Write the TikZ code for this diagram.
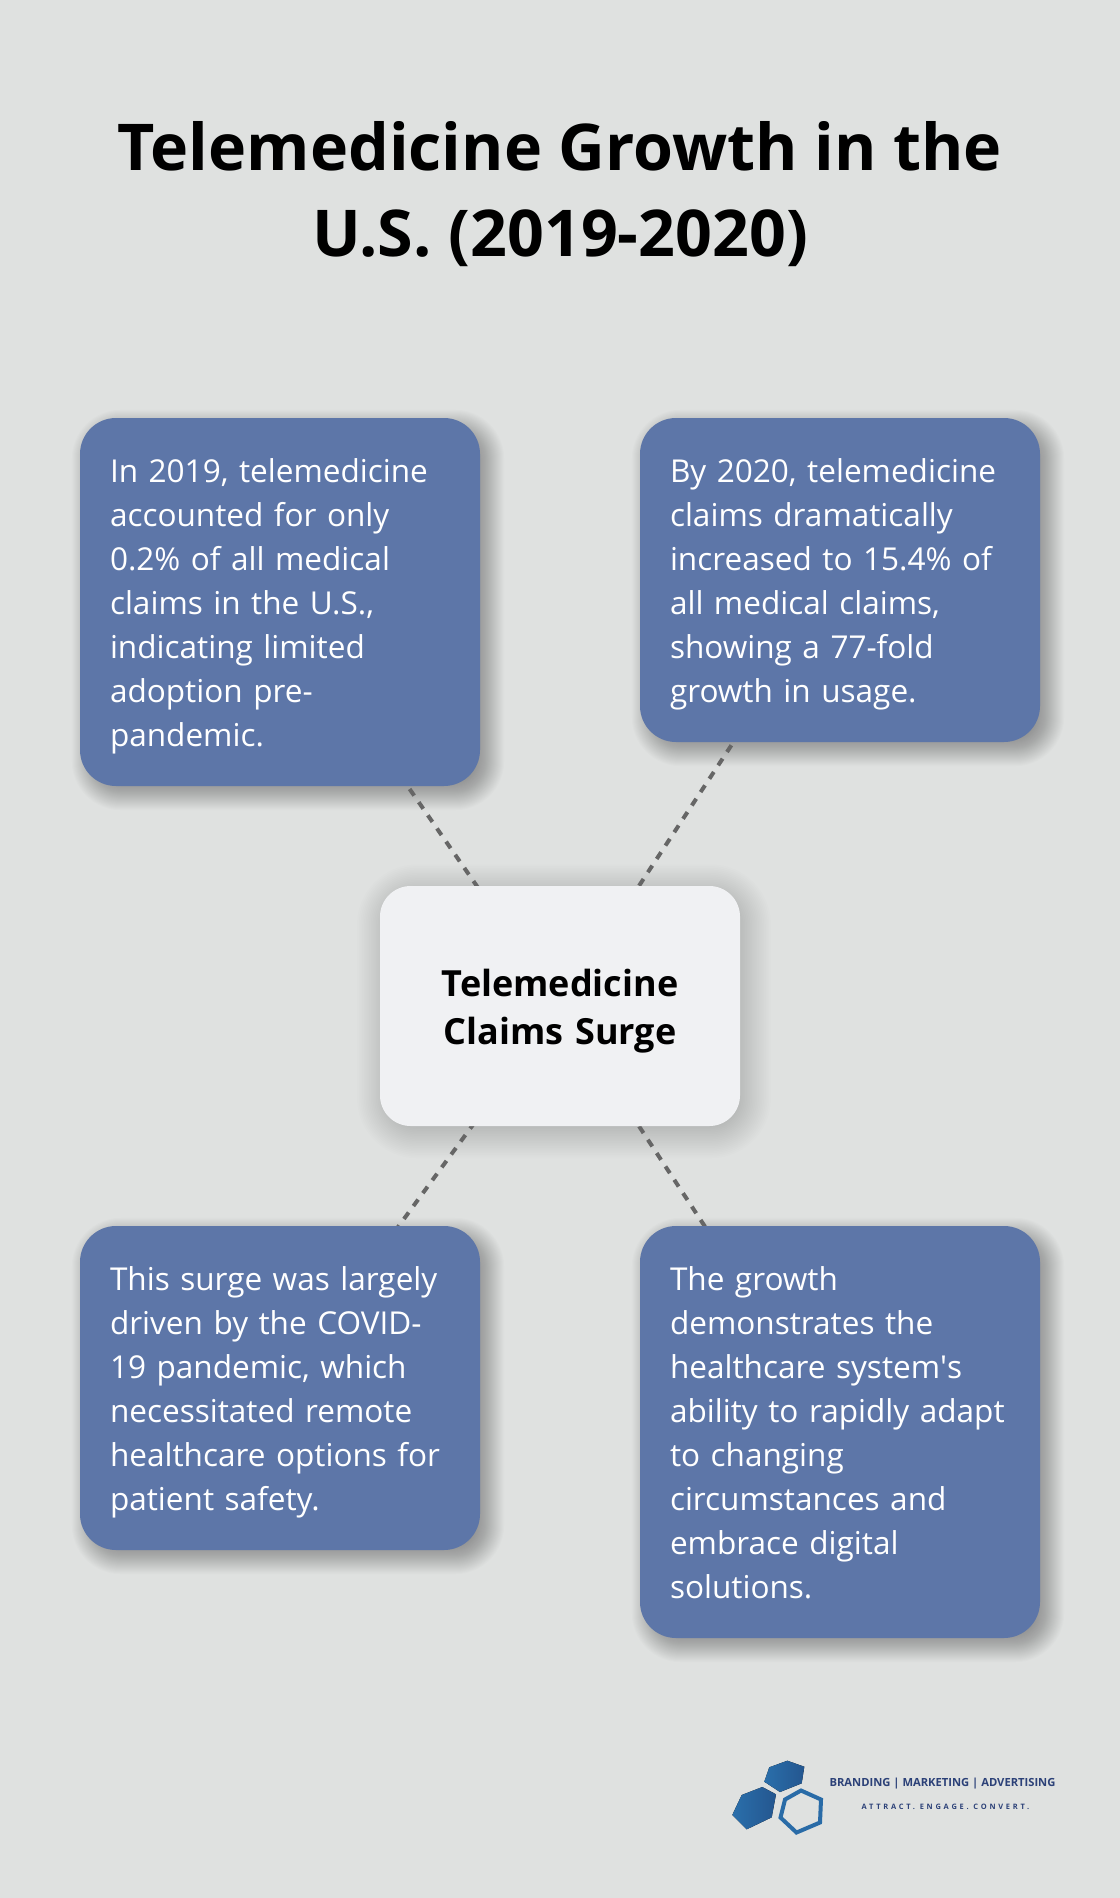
\documentclass[tikz,border=0pt]{standalone}
\usepackage{fontspec}
\setmainfont{Open Sans}
\newfontfamily\spacedfont[LetterSpace=37]{Open Sans}
\newfontfamily\plainfont{Open Sans}
\usetikzlibrary{shadings}
\definecolor{bgc}{HTML}{DFE1E0}
\definecolor{bluebox}{HTML}{5D76A8}
\definecolor{lightbox}{HTML}{F0F1F3}
\definecolor{dashc}{HTML}{666666}
\definecolor{logoA}{HTML}{2A6FAB}
\definecolor{logoB}{HTML}{24568F}
\definecolor{logoT}{HTML}{2C4178}
\pgfdeclarelayer{bglayer}
\pgfdeclarelayer{shadowlayer}
\pgfdeclarelayer{linelayer}
\pgfsetlayers{bglayer,shadowlayer,linelayer,main}
\tikzset{
  x=0.75pt,y=-0.75pt,
  card/.style={fill=bluebox,text=white,rounded corners=27pt,inner sep=0pt,text width=255pt,minimum width=300pt,align=left,font=\fontsize{23.65}{33}\selectfont,execute at begin node={\rule{0pt}{#1}}},
  hub/.style={fill=lightbox,text=black,rounded corners=23pt,inner sep=0pt,text width=240pt,minimum width=270pt,minimum height=180pt,align=center,font=\fontsize{27}{36}\selectfont\bfseries,execute at begin node={\rule{0pt}{28pt}}},
  titletext/.style={inner sep=0pt,align=center,font=\fontsize{48.4}{64.5}\selectfont\bfseries},
  link/.style={draw=dashc,line width=3pt,dash pattern=on 6pt off 6pt},
  hexfill/.style={left color=logoA,right color=logoB,draw=none},
}
\newcommand{\softshadow}[5]{% node, dx, dy (pt, down is positive), spread (pt), opacity per layer
  \begin{pgfonlayer}{shadowlayer}
  \foreach \i in {0,...,31}{
    \pgfmathsetmacro{\e}{#4*(1-\i/15.5)}
    \pgfmathsetmacro{\r}{max(25+\e,2)}
    \fill[black,opacity=#5,rounded corners=\r pt]
      ([shift={(#2pt-\e pt,-#3pt+\e pt)}]#1.north west) rectangle ([shift={(#2pt+\e pt,-#3pt-\e pt)}]#1.south east);
  }
  \end{pgfonlayer}
}
\begin{document}
\begin{tikzpicture}
\begin{pgfonlayer}{bglayer}
\useasboundingbox[fill=bgc] (0,0) rectangle (1120,1898);
\end{pgfonlayer}

\node[titletext] (title) at (560,194) {Telemedicine Growth in the\\U.S. (2019-2020)};

\node[card=24pt,minimum height=276pt] (c1) at (280,602) {In 2019, telemedicine\\accounted for only\\0.2\% of all medical\\claims in the U.S.,\\indicating limited\\adoption pre-\\pandemic.};
\node[card=24pt,minimum height=243pt] (c2) at (840,580) {By 2020, telemedicine\\claims dramatically\\increased to 15.4\% of\\all medical claims,\\showing a 77-fold\\growth in usage.};
\node[card=24pt,minimum height=243pt] (c3) at (280,1388) {This surge was largely\\driven by the COVID-\\19 pandemic, which\\necessitated remote\\healthcare options for\\patient safety.};
\node[card=19pt,minimum height=309pt] (c4) at (840,1432) {The growth\\demonstrates the\\healthcare system{\plainfont '}s\\ability to rapidly adapt\\to changing\\circumstances and\\embrace digital\\solutions.};
\node[hub] (hub) at (560,1006) {Telemedicine\\Claims Surge};

\softshadow{c1}{6}{6}{12}{0.01}
\softshadow{c2}{6}{6}{12}{0.01}
\softshadow{c3}{6}{6}{12}{0.01}
\softshadow{c4}{6}{6}{12}{0.01}
\softshadow{hub}{3}{4}{20}{0.0075}

\begin{pgfonlayer}{linelayer}
\draw[link] (hub.center) -- (c1.center);
\draw[link] (hub.center) -- (c2.center);
\draw[link] (hub.center) -- (c3.center);
\draw[link] (hub.center) -- (c4.center);
\end{pgfonlayer}

% logo
\fill[hexfill] (787.3,1760.7)--(804.3,1766.7)--(801.7,1783.3)--(780,1792)--(764.3,1781.7)--(769.3,1767.3)--cycle;
\fill[hexfill] (762.3,1787)--(776,1794.3)--(771.7,1817.3)--(746.7,1829.3)--(732.3,1815)--(741.7,1795)--cycle;
\draw[draw=logoA!85!logoB,line width=3pt,line join=miter] (801,1790.5)--(821,1799.5)--(820,1822.5)--(796.5,1832.5)--(780.5,1817.5)--(785,1799.5)--cycle;
\node[inner sep=0pt,text=logoT,font=\fontsize{8.4}{10}\selectfont\bfseries] (brand) at (942.5,1784) {BRANDING | MARKETING | ADVERTISING};
\node[inner sep=0pt,text=logoT,font=\fontsize{5.6}{7}\selectfont\spacedfont\bfseries] (tag) at (945.5,1807) {ATTRACT. ENGAGE. CONVERT.};
\end{tikzpicture}
\end{document}
